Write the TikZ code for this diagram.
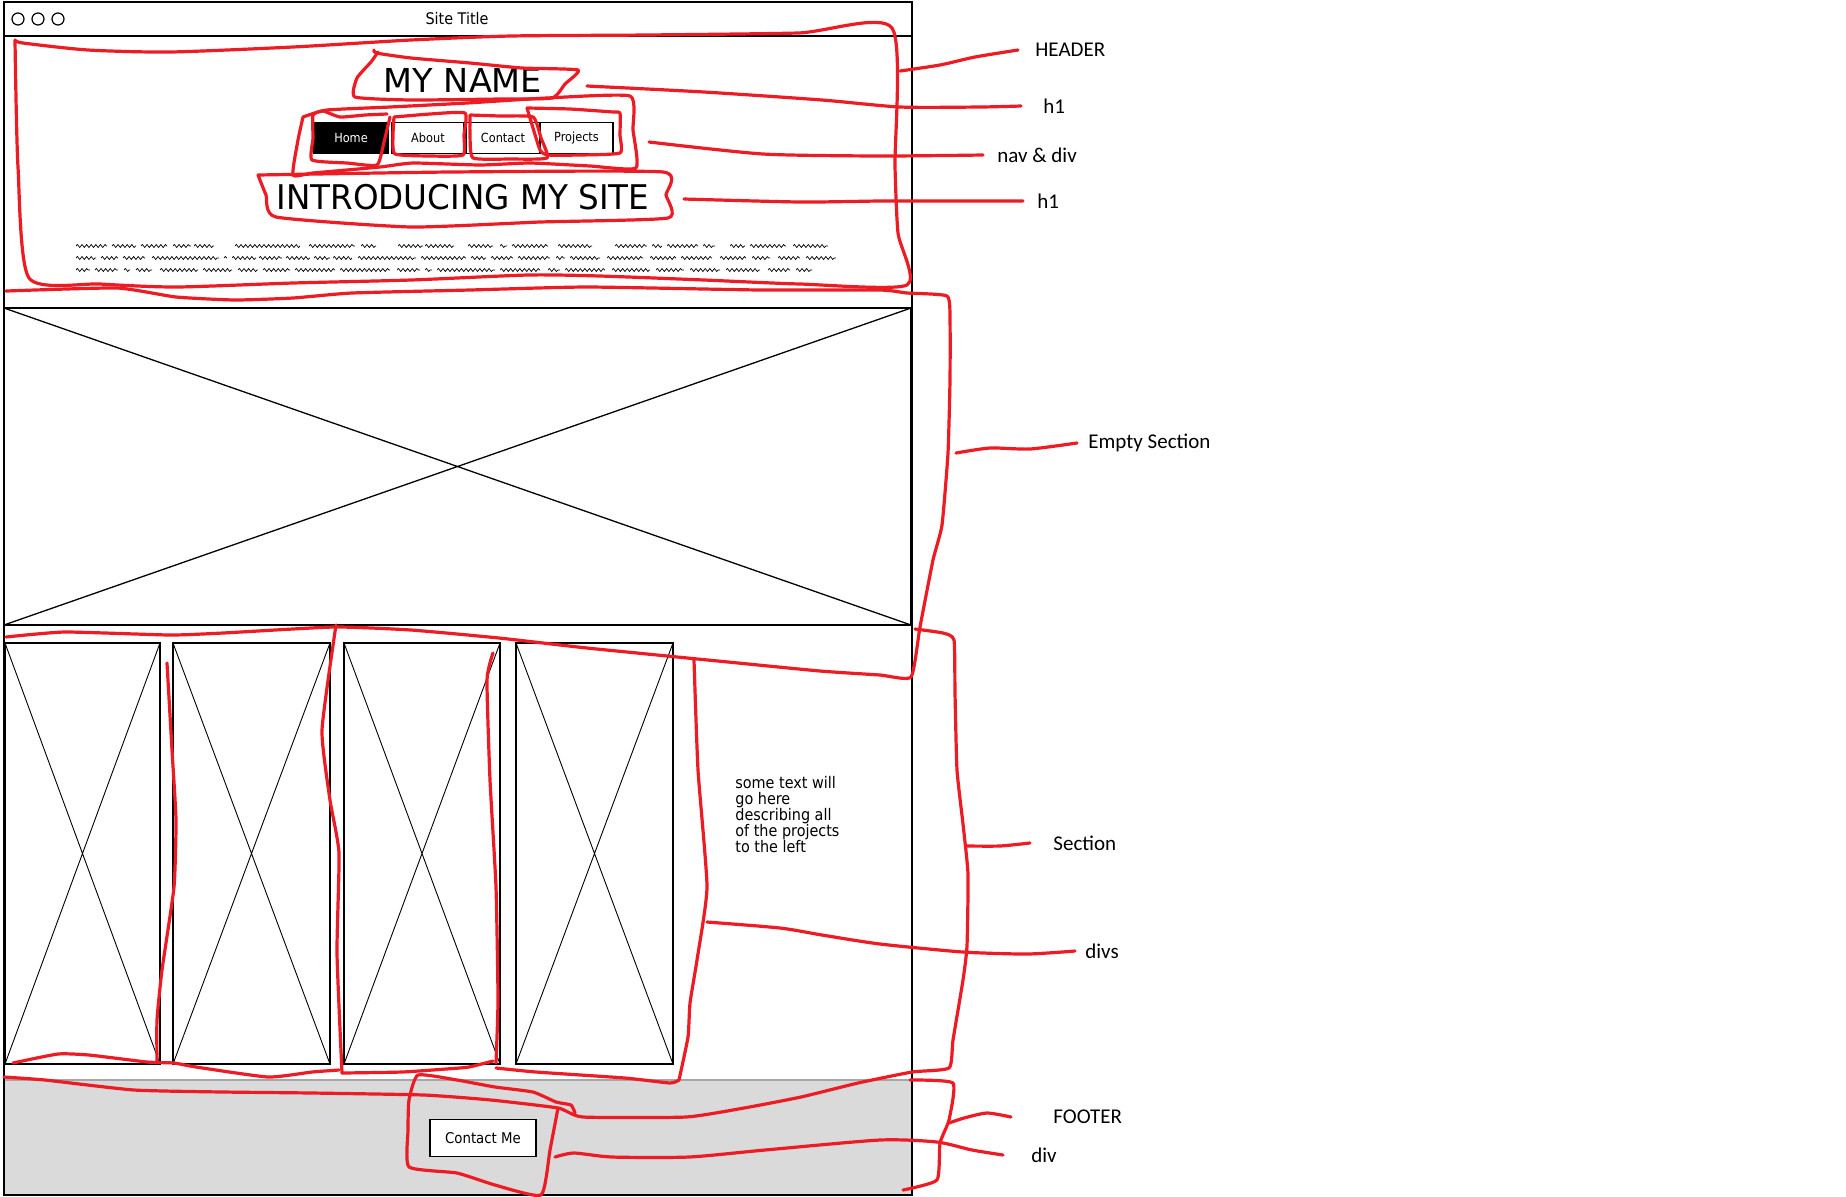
\documentclass[tikz,border=0pt]{standalone}
\usepackage{fontspec}
\setmainfont{Carlito}
\newfontfamily\hand{DejaVu Sans Condensed}
\usetikzlibrary{decorations.pathmorphing}
\definecolor{ink}{RGB}{237,28,36}
\definecolor{footgray}{RGB}{218,218,218}
\begin{document}
\begin{tikzpicture}[x=0.5pt,y=-0.5pt,
  redline/.style={draw=ink, line width=1.6pt, line cap=round, line join=round},
  sketch/.style={draw=black, line width=0.65pt},
  thinx/.style={draw=black, line width=0.45pt},
  lbl/.style={anchor=west, inner sep=0pt, font=\fontsize{10.5}{12}\selectfont},
  squig/.style={draw=black, line width=0.35pt, decorate, decoration={snake, amplitude=0.75pt, segment length=2.3pt}},
  navbtn/.style={draw=black, line width=0.7pt, minimum height=15.5pt, inner sep=0pt, font=\hand\fontsize{6.3}{7}\selectfont},
]
\useasboundingbox (0,0) rectangle (1846,1196);
\fill[white] (0,0) rectangle (1846,1196);

% ---------- browser window ----------
\fill[footgray] (4,1080) rectangle (912,1195);
\draw[gray!70, line width=0.6pt] (4,1080) -- (912,1080);
\draw[line width=0.8pt] (4,2) rectangle (912,1195);
\draw[line width=1.1pt] (4,36) -- (912,36);
\foreach \cx in {18,38,58} \draw[line width=0.6pt] (\cx,19) circle[radius=6];
\node[font=\hand\fontsize{8}{9}\selectfont] (title) at (457,19) {Site Title};

% ---------- header ----------
\node[inner sep=0pt, font=\hand\fontsize{16.5}{18}\selectfont] (myname) at (463,80) {\scalebox{1.13}[1]{MY NAME}};
\node[navbtn, fill=black, text=white, minimum width=37pt] (home) at (351,138) {Home};
\node[navbtn, minimum width=36pt] (about) at (428,138) {About};
\node[navbtn, minimum width=37pt] (contact) at (503,138) {Contact};
\node[navbtn, minimum width=36.5pt] (projects) at (576.5,138) {Projects};
\node[inner sep=0pt, font=\hand\fontsize{17}{19}\selectfont] (intro) at (463,197) {\scalebox{1.065}[1]{INTRODUCING MY SITE}};

\foreach \a/\b in {76/107,112/136,141/167,173/191,194/214,235/300,309/355,361/376,398/423,425/454,468/493,500/507,512/548,558/592,615/647,652/662,667/698,703/715,730/745,750/786,793/828}
  \draw[squig] (\a,246) -- (\b,246);
\foreach \a/\b in {76/96,101/118,123/145,152/219,224/227,232/256,259/282,286/310,314/330,333/352,358/416,421/466,471/486,491/513,518/550,556/565,570/600,607/643,650/676,681/712,720/746,752/770,778/800,806/836}
  \draw[squig] (\a,258) -- (\b,258);
\foreach \a/\b in {76/90,95/118,124/130,136/152,160/198,203/232,238/258,263/290,295/335,340/390,397/420,425/432,437/495,500/540,548/560,565/605,612/650,656/684,690/720,726/760,768/790,796/812}
  \draw[squig] (\a,270) -- (\b,270);

% ---------- empty section ----------
\draw[sketch] (4,308) rectangle (911,625);
\draw[sketch] (4,308) -- (911,625) (4,625) -- (911,308);

% ---------- section with divs ----------
\foreach \a/\b in {5/160,173/330,344/500,516/673} {
  \draw[sketch] (\a,643) rectangle (\b,1064);
  \draw[thinx] (\a,643) -- (\b,1064) (\a,1064) -- (\b,643);
}
\node[anchor=north west, align=left, inner sep=0pt, font=\hand\fontsize{8}{8}\selectfont] (desc) at (735,776)
  {some text will\\go here\\describing all\\of the projects\\to the left};

% ---------- footer ----------
\node[draw=black, line width=0.8pt, fill=white, minimum width=53pt, minimum height=18.5pt, inner sep=0pt, font=\hand\fontsize{7.4}{8}\selectfont] (cme) at (483,1138) {Contact Me};

% ---------- labels ----------
\node[lbl] (lhdr) at (1035,50) {HEADER};
\node[lbl] (lh1a) at (1043,106) {h1};
\node[lbl] (lnav) at (997,155) {nav \& div};
\node[lbl] (lh1b) at (1037,201) {h1};
\node[lbl] (lempty) at (1088,443) {Empty Section};
\node[lbl] (lsec) at (1053,843) {Section};
\node[lbl] (ldivs) at (1085,951) {divs};
\node[lbl] (lfoot) at (1053,1117) {FOOTER};
\node[lbl] (ldiv) at (1031,1155) {div};

% ---------- red annotation outlines ----------
% header
\draw[redline] plot[smooth, tension=0.4] coordinates {(15,40) (23,43) (88,50) (170,52) (293,47) (411,40) (511,36) (646,35) (798,33) (892,28) (895,167) (898,233) (907,285) (800,284) (704,280) (600,276) (528,275) (411,280) (293,283) (176,287) (100,284) (29,278) (18,167) (15,40)};
% my name
\draw[redline] plot[smooth, tension=0.3] coordinates {(378,52) (371,62) (357,78) (355,97) (411,100) (500,99) (552,98) (565,84) (578,70) (522,68) (470,63) (411,58) (376,53) (374,50)};
% nav outline
\draw[redline] plot[smooth, tension=0.3] coordinates {(303,117) (327,110) (390,107) (467,103) (547,98) (630,96) (633,130) (636,168) (590,166) (530,163) (480,165) (413,163) (380,167) (313,173) (293,175) (298,140) (303,117)};
% home
\draw[redline] plot[smooth, tension=0.3] coordinates {(390,117) (384,142) (377,165) (347,163) (312,160) (313,138) (313,115) (323,111) (340,117) (365,115) (387,114)};
% about
\draw[redline] plot[smooth, tension=0.3] coordinates {(394,117) (430,114) (465,113) (464,135) (463,155) (430,156) (395,154) (393,135) (394,117)};
% contact
\draw[redline] plot[smooth, tension=0.3] coordinates {(470,115) (500,116) (533,117) (541,138) (547,158) (510,159) (473,158) (470,135) (470,115)};
% projects
\draw[redline] plot[smooth, tension=0.3] coordinates {(527,108) (570,109) (613,112) (620,113) (620,135) (620,153) (580,155) (547,155) (540,150) (533,128) (527,108)};
% intro h1
\draw[redline] plot[smooth, tension=0.3] coordinates {(258,175) (450,172) (663,172) (666,195) (668,218) (540,222) (411,227) (276,217) (266,195) (258,175)};
% empty section
\draw[redline] plot[smooth, tension=0.3] coordinates {(6,291) (117,288) (176,297) (235,300) (293,298) (352,293) (470,290) (587,287) (760,290) (880,290) (907,293) (947,296) (950,320) (950,380) (948,453) (942,525) (933,560) (920,627) (911,677) (880,675) (820,671) (728,662) (587,648) (499,638) (411,630) (334,627) (223,633) (170,635) (65,632) (6,637)};
% section + footer top
\draw[redline] plot[smooth, tension=0.3] coordinates {(915,629) (943,633) (954,640) (955,693) (957,770) (963,824) (968,874) (967,946) (963,980) (953,1040) (949,1068) (912,1072) (858,1083) (801,1097) (744,1108) (686,1117) (583,1117) (558,1108) (491,1100) (424,1095) (312,1093) (223,1092) (134,1090) (45,1080) (4,1077)};
% divs verticals
\draw[redline] plot[smooth, tension=0.3] coordinates {(167,663) (172,750) (176,820) (174,887) (162,970) (157,1020) (157,1062)};
\draw[redline] plot[smooth, tension=0.3] coordinates {(336,625) (322,730) (330,800) (339,853) (337,953) (342,1073)};
\draw[redline] plot[smooth, tension=0.3] coordinates {(493,653) (487,680) (490,780) (496,887) (498,1000) (496,1063)};
\draw[redline] plot[smooth, tension=0.3] coordinates {(694,660) (698,770) (707,887) (697,960) (690,1003) (688,1037) (679,1080)};
% divs bottom
\draw[redline] plot[smooth, tension=0.3] coordinates {(13,1063) (58,1054) (89,1055) (147,1062) (174,1063) (196,1067) (268,1077) (312,1072) (339,1070)};
\draw[redline] plot[smooth, tension=0.3] coordinates {(342,1073) (402,1072) (446,1069) (469,1067) (493,1061)};
\draw[redline] plot[smooth, tension=0.3] coordinates {(496,1068) (536,1072) (625,1078) (670,1083) (679,1080)};
% footer right side
\draw[redline] plot[smooth, tension=0.3] coordinates {(910,1080) (953,1083) (949,1120) (940,1143) (937,1180) (903,1190)};
% contact div
\draw[redline] plot[smooth, tension=0.3] coordinates {(575,1113) (571,1105) (556,1102) (533,1092) (495,1087) (457,1080) (418,1075) (409,1100) (408,1130) (409,1167) (457,1173) (495,1185) (541,1195) (550,1150) (558,1108)};

% ---------- leaders ----------
\draw[redline] plot[smooth, tension=0.4] coordinates {(900,71) (940,65) (975,57) ([xshift=-8.5pt]lhdr.west)};
\draw[redline] plot[smooth, tension=0.4] coordinates {(587,86) (704,92) (822,100) (900,107) (980,107) ([xshift=-11pt]lh1a.west)};
\draw[redline] plot[smooth, tension=0.4] coordinates {(649,142) (763,154) (880,156) ([xshift=-7pt]lnav.west)};
\draw[redline] plot[smooth, tension=0.4] coordinates {(684,199) (800,202) (880,201) (930,201) ([xshift=-7pt]lh1b.west)};
\draw[redline] plot[smooth, tension=0.4] coordinates {(956,453) (990,448) (1030,449) ([xshift=-5.5pt]lempty.west)};
\draw[redline] plot[smooth, tension=0.4] coordinates {(967,846) (1000,846) ([xshift=-11.5pt]lsec.west)};
\draw[redline] plot[smooth, tension=0.4] coordinates {(707,922) (780,928) (822,935) (880,944) (963,952) (1027,954) ([xshift=-5pt]ldivs.west)};
\draw[redline] plot[smooth, tension=0.4] coordinates {(949,1123) (964,1118) (987,1113) ([xshift=-21pt]lfoot.west)};
\draw[redline] plot[smooth, tension=0.4] coordinates {(555,1157) (574,1153) (612,1157) (689,1157) (765,1150) (880,1140) (937,1142) (972,1150) ([xshift=-14pt]ldiv.west)};
\end{tikzpicture}
\end{document}
